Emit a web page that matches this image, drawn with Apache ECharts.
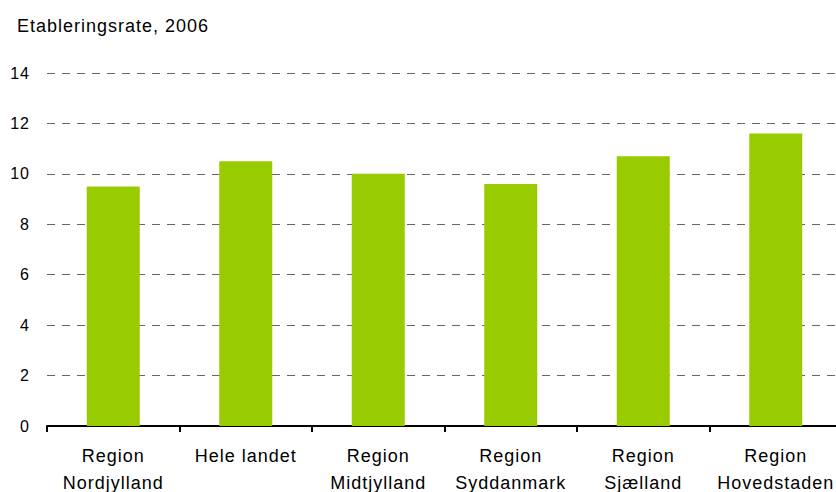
<!DOCTYPE html>
<html>
<head>
<meta charset="utf-8">
<script src="https://cdn.jsdelivr.net/npm/echarts@6/dist/echarts.min.js"></script>
<style>html,body{margin:0;padding:0;background:#fff;}#c{width:836px;height:492px;}#c text{letter-spacing:1px;}</style>
</head>
<body>
<div id="c"></div>
<script>
const categories = ["Region\nNordjylland", "Hele landet", "Region\nMidtjylland", "Region\nSyddanmark", "Region\nSjælland", "Region\nHovedstaden"];
const values = [9.5, 10.5, 10.0, 9.6, 10.7, 11.6];
const yTicks = [0, 2, 4, 6, 8, 10, 12, 14];
const titleText = "Etableringsrate, 2006";

const FONT = '"Liberation Sans", Arial, sans-serif';
const chart = echarts.init(document.getElementById('c'), null, {renderer: 'svg'});
chart.setOption({
  animation: false,
  backgroundColor: '#fff',
  title: {
    text: titleText, left: 12, top: 12,
    textStyle: {fontFamily: FONT, fontSize: 18, fontWeight: 'normal', color: '#000'}
  },
  grid: {left: 47, right: -6, top: 73, bottom: 66, containLabel: false, outerBoundsMode: 'none'},
  xAxis: {
    type: 'category', data: categories,
    axisLine: {lineStyle: {color: '#000', width: 2}},
    axisTick: {show: true, interval: 0, length: 6, lineStyle: {color: '#000', width: 2}},
    axisLabel: {interval: 0, hideOverlap: false, fontFamily: FONT, fontSize: 18, color: '#000', margin: 16, lineHeight: 27}
  },
  yAxis: {
    type: 'value', min: yTicks[0], max: yTicks[yTicks.length - 1], interval: 2,
    axisLine: {show: false}, axisTick: {show: false},
    axisLabel: {fontFamily: FONT, fontSize: 16, color: '#000', margin: 17},
    splitLine: {lineStyle: {color: '#666', type: [8, 7], width: 1}}
  },
  series: [{
    type: 'bar', data: values, barWidth: 53,
    itemStyle: {color: '#99CC00'}
  }]
});
</script>
</body>
</html>
